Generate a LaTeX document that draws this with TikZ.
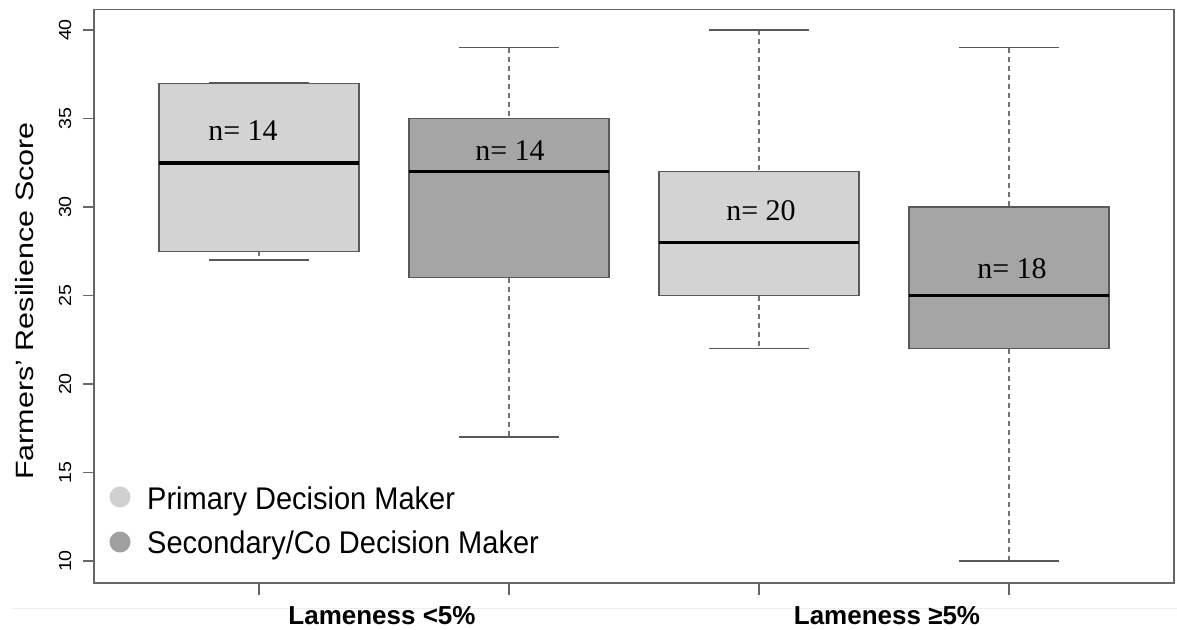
\documentclass[tikz,border=0pt]{standalone}
\usepackage{fontspec}
\setmainfont{Liberation Serif}
\setsansfont{Liberation Sans}
\definecolor{boxL}{HTML}{D3D3D3}
\definecolor{boxD}{HTML}{A5A5A5}
\definecolor{legL}{HTML}{D0D0D0}
\definecolor{legD}{HTML}{A0A0A0}
\tikzset{
  plotframe/.style={draw=black!60, line width=1.4pt},
  boxlight/.style={fill=boxL, draw=black!65, line width=1.2pt},
  boxdark/.style={fill=boxD, draw=black!65, line width=1.2pt},
  medianline/.style={black, line width=3.5pt},
  whiskerline/.style={draw=black!55, line width=1.3pt, dash pattern=on 5pt off 4pt},
  capline/.style={draw=black!65, line width=1.5pt},
  tickline/.style={draw=black!60, line width=1.3pt},
  ticklabel/.style={font=\sffamily\fontsize{17.5}{20}\selectfont, rotate=90, anchor=base, inner sep=0pt},
  nlabel/.style={font=\rmfamily\fontsize{30}{34}\selectfont, anchor=base, inner sep=0pt},
  legtext/.style={font=\sffamily\fontsize{29}{34}\selectfont, anchor=base west, inner sep=0pt},
  grouplabel/.style={font=\sffamily\bfseries\fontsize{26}{30}\selectfont, anchor=base, inner sep=0pt},
}
\begin{document}
\begin{tikzpicture}[x=1pt, y=-1pt, declare function={Y(\v)=30+(40-\v)*17.7;}]
\useasboundingbox (0,0) rectangle (1177,629);
\fill[white] (0,0) rectangle (1177,629);

% faint rule under the plot
\draw[black!7, line width=1pt] (13,608) -- (1177,608);

% boxes: centre / Q3 / median / Q1 / upper whisker / lower whisker / style / n / label x / label baseline
\foreach \c/\qt/\md/\qb/\hi/\lo/\st/\n/\lx/\ly/\id in {
    259/37/32.5/27.5/37/27/boxlight/14/243/140/a,
    509/35/32/26/39/17/boxdark/14/510/160/b,
    759/32/28/25/40/22/boxlight/20/761/220/c,
    1009/30/25/22/39/10/boxdark/18/1012/278/d}{
  \draw[whiskerline] (\c,{Y(\hi)}) -- (\c,{Y(\qt)});
  \draw[whiskerline] (\c,{Y(\qb)}) -- (\c,{Y(\lo)});
  \draw[capline] (\c-50,{Y(\hi)}) -- (\c+50,{Y(\hi)});
  \draw[capline] (\c-50,{Y(\lo)}) -- (\c+50,{Y(\lo)});
  \draw[\st] (\c-100,{Y(\qt)}) rectangle (\c+100,{Y(\qb)});
  \draw[medianline] (\c-100,{Y(\md)}) -- (\c+100,{Y(\md)});
  \node[nlabel] (n\id) at (\lx,\ly) {n= \n};
}

% plot frame
\draw[plotframe] (94,9.5) rectangle (1174,583);

% y axis ticks and labels
\foreach \v in {10,15,...,40}{
  \draw[tickline] (83,{Y(\v)}) -- (94,{Y(\v)});
  \node[ticklabel] (yt\v) at (71,{Y(\v)}) {\scalebox{1.12}[1]{\v}};
}
\node[font=\sffamily\fontsize{25}{30}\selectfont, rotate=90, anchor=base, inner sep=0pt]
  (ytitle) at (33,301) {\scalebox{1.22}[1]{Farmers' Resilience Score}};

% x axis ticks and group labels
\foreach \x in {259,509,759,1009}{
  \draw[tickline] (\x,583) -- (\x,595);
}
\node[grouplabel] (g1) at (382,624) {Lameness <5\%};
\node[grouplabel] (g2) at (887,624) {Lameness ≥5\%};

% legend
\fill[legL] (120,497) circle (10.5);
\fill[legD] (120,542) circle (10.5);
\node[legtext] (leg1) at (147,509) {\scalebox{1}[1.08]{Primary Decision Maker}};
\node[legtext] (leg2) at (147,553) {\scalebox{1}[1.08]{Secondary/Co Decision Maker}};
\end{tikzpicture}
\end{document}
